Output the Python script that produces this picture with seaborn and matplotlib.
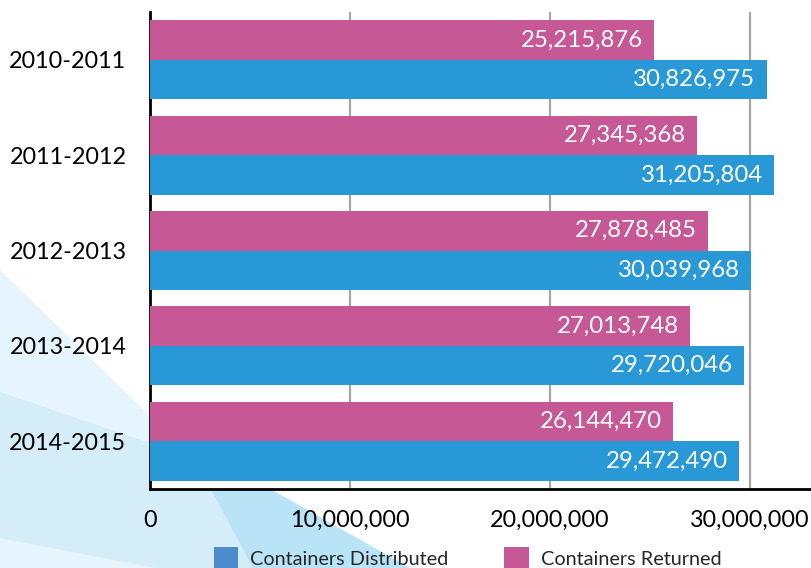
import matplotlib
matplotlib.use("Agg")
import matplotlib.pyplot as plt
import seaborn as sns
import pandas as pd
from matplotlib.patches import Polygon, Patch
from matplotlib.ticker import FuncFormatter

years = ["2010-2011", "2011-2012", "2012-2013", "2013-2014", "2014-2015"]
returned = [25215876, 27345368, 27878485, 27013748, 26144470]
distributed = [30826975, 31205804, 30039968, 29720046, 29472490]
series_names = ["Containers Returned", "Containers Distributed"]
x_ticks = [0, 10000000, 20000000, 30000000]

bar_colors = {"Containers Returned": "#c65896", "Containers Distributed": "#2898d6"}
legend_colors = {"Containers Distributed": "#4a8ccc", "Containers Returned": "#c65896"}

df = pd.DataFrame({
    "year": years * 2,
    "value": returned + distributed,
    "series": [series_names[0]] * len(years) + [series_names[1]] * len(years),
})

sns.set_theme(style="white")
plt.rcParams["font.family"] = ["Lato", "DejaVu Sans"]

W, H = 811, 568
fig = plt.figure(figsize=(W / 100, H / 100), dpi=100)
fig.patch.set_facecolor("white")

def px(pts):
    return [(x / W, 1 - y / H) for x, y in pts]

bg = [
    ([(0, 270), (218, 482), (0, 482)], "#e6f5fd"),
    ([(0, 392), (250, 477), (410, 568), (0, 568)], "#d5ecf9"),
    ([(205, 478), (250, 478), (410, 568), (253, 568)], "#b9e4f8"),
    ([(0, 538), (155, 568), (0, 568)], "#e6f5fd"),
]
for pts, c in bg:
    fig.add_artist(Polygon(px(pts), closed=True, facecolor=c, edgecolor="none",
                           transform=fig.transFigure, zorder=-5))

ax = fig.add_axes([150 / W, 1 - 489 / H, (810 - 150) / W, (489 - 12) / H])
ax.set_facecolor("white")

sns.barplot(data=df, y="year", x="value", hue="series", hue_order=series_names,
            order=years, orient="h", palette=bar_colors, width=0.83,
            saturation=1, ax=ax, legend=False, zorder=3, linewidth=0,
            edgecolor="none")

ax.set_xlim(0, 33000000)
ax.set_ylim(4.5, -0.5)
ax.set_xticks(x_ticks)
ax.xaxis.set_major_formatter(FuncFormatter(lambda v, p: f"{int(v):,}"))
ax.grid(axis="x", color="#a6a6a6", linewidth=1.6, zorder=0)
ax.grid(axis="y", visible=False)
ax.set_axisbelow(True)
ax.set_xlabel("")
ax.set_ylabel("")
for s in ["top", "right"]:
    ax.spines[s].set_visible(False)
for s in ["left", "bottom"]:
    ax.spines[s].set_color("black")
    ax.spines[s].set_linewidth(2)
ax.tick_params(axis="both", length=0, colors="black")
ax.tick_params(axis="x", pad=15, labelsize=16.8)
ax.tick_params(axis="y", pad=17, labelsize=16.8)

for container in ax.containers:
    for bar in container:
        val = bar.get_width()
        ax.annotate(f"{int(round(val)):,}", xy=(val, bar.get_y() + bar.get_height() / 2),
                    xytext=(-8, 0), textcoords="offset points", ha="right", va="center",
                    color="white", fontsize=17.3, zorder=5)

handles = [Patch(facecolor=legend_colors[n], edgecolor="none", label=n)
           for n in ["Containers Distributed", "Containers Returned"]]
fig.legend(handles=handles, loc="center", bbox_to_anchor=(467.5 / W, 1 - 558 / H),
           ncol=2, frameon=False, fontsize=14.3, handlelength=1.25, handleheight=1.25,
           handletextpad=0.6, columnspacing=2.8, borderpad=0, borderaxespad=0)

fig.savefig("out.png", dpi=100)
